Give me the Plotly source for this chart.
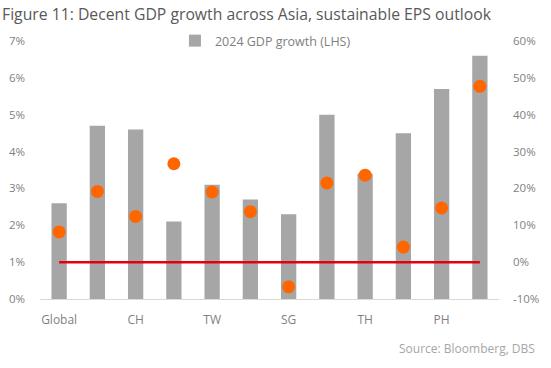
import plotly.graph_objects as go

categories = ["Global", "Asia", "CH", "HK", "TW", "KR", "SG", "ID", "TH", "MY", "PH", "IN"]
shown_labels = ["Global", "CH", "TW", "SG", "TH", "PH"]
gdp_2024 = [2.6, 4.7, 4.6, 2.1, 3.1, 2.7, 2.3, 5.0, 3.4, 4.5, 5.7, 6.6]
eps_growth = [8.2, 19.2, 12.4, 26.7, 19.0, 13.7, -6.7, 21.5, 23.6, 4.1, 14.7, 47.7]
zero_line = [0] * len(categories)
left_ticks = [0, 1, 2, 3, 4, 5, 6, 7]
right_ticks = [-10, 0, 10, 20, 30, 40, 50, 60]

FONT = "Open Sans"
TICK_COLOR = "#7f7f7f"

fig = go.Figure()
fig.add_trace(go.Bar(
    x=categories, y=gdp_2024, name="2024 GDP growth (LHS)",
    marker=dict(color="#A6A6A6", line=dict(width=0)),
    yaxis="y", showlegend=True,
))
fig.add_trace(go.Scatter(
    x=categories, y=zero_line, mode="lines", yaxis="y2",
    line=dict(color="#E3000F", width=2.5), showlegend=False, hoverinfo="skip",
))
fig.add_trace(go.Scatter(
    x=categories, y=eps_growth, mode="markers", yaxis="y2", name="EPS growth (RHS)",
    marker=dict(color="#FF6600", size=13), showlegend=False,
))

fig.update_layout(
    width=551, height=368,
    margin=dict(l=40, r=52, t=41, b=69, autoexpand=False),
    paper_bgcolor="white", plot_bgcolor="white",
    font=dict(family=FONT, color=TICK_COLOR, size=12),
    bargap=0.6,
    title=dict(
        text="Figure 11: Decent GDP growth across Asia, sustainable EPS outlook",
        x=2 / 551, xanchor="left", xref="container",
        y=1 - 14 / 368, yanchor="middle", yref="container",
        font=dict(family=FONT, size=15.75, color="#595959"),
    ),
    xaxis=dict(
        type="category", categoryorder="array", categoryarray=categories,
        tickmode="array", tickvals=shown_labels, ticktext=shown_labels,
        showline=True, linecolor="#D9D9D9", linewidth=1,
        ticks="", showgrid=False, zeroline=False,
        tickfont=dict(family=FONT, size=12, color=TICK_COLOR),
        ticklabelstandoff=10,
        range=[-0.5, len(categories) - 0.5],
    ),
    yaxis=dict(
        range=[0, 7], tickmode="array", tickvals=left_ticks,
        ticktext=[f"{v}%" for v in left_ticks],
        showgrid=False, zeroline=False, showline=False, ticks="",
        tickfont=dict(family=FONT, size=11.5, color=TICK_COLOR),
        ticklabelstandoff=14,
    ),
    yaxis2=dict(
        range=[-10, 60], tickmode="array", tickvals=right_ticks,
        ticktext=[f"{v}%" for v in right_ticks],
        overlaying="y", side="right",
        showgrid=False, zeroline=False, showline=False, ticks="",
        tickfont=dict(family=FONT, size=11.5, color=TICK_COLOR),
        ticklabelstandoff=13,
    ),
    legend=dict(
        orientation="h", x=0.294, xanchor="left", y=1.0, yanchor="middle",
        font=dict(family=FONT, size=12.5, color=TICK_COLOR),
        bgcolor="rgba(0,0,0,0)", itemwidth=30,
    ),
    annotations=[dict(
        text="Source: Bloomberg, DBS", xref="paper", yref="paper",
        x=(537 - 40) / 459, xanchor="right", y=-(348 - 299) / 258, yanchor="middle",
        showarrow=False, font=dict(family=FONT, size=12, color="#a6a6a6"),
    )],
)

fig.write_html("out.html", config={"displayModeBar": False},
               post_script="document.body.style.margin='0';")
